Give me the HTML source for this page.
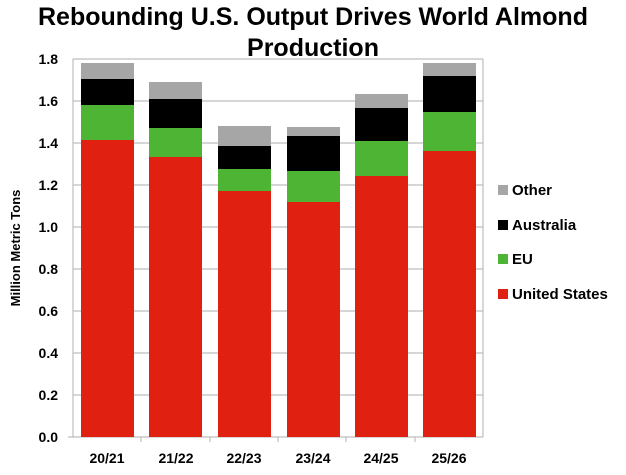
<!DOCTYPE html>
<html><head><style>body{margin:0;background:#fff}</style></head><body>
<svg width="626" height="470" xmlns="http://www.w3.org/2000/svg" font-family="Liberation Sans, sans-serif" font-weight="bold">
<text x="313" y="25" font-size="25" text-anchor="middle">Rebounding U.S. Output Drives World Almond</text>
<text x="313" y="56" font-size="25" text-anchor="middle">Production</text>
<g stroke="#bdbdbd" stroke-width="1.2">
<line x1="73" y1="59" x2="483" y2="59"/><line x1="73" y1="101" x2="483" y2="101"/><line x1="73" y1="143" x2="483" y2="143"/><line x1="73" y1="185" x2="483" y2="185"/><line x1="73" y1="227" x2="483" y2="227"/><line x1="73" y1="269" x2="483" y2="269"/><line x1="73" y1="311" x2="483" y2="311"/><line x1="73" y1="353" x2="483" y2="353"/><line x1="73" y1="395" x2="483" y2="395"/>
<line x1="73" y1="59" x2="73" y2="437"/><line x1="483" y1="59" x2="483" y2="437"/>
<line x1="68" y1="437" x2="483" y2="437"/>
<line x1="141" y1="437" x2="141" y2="442"/><line x1="210" y1="437" x2="210" y2="442"/><line x1="278" y1="437" x2="278" y2="442"/><line x1="346" y1="437" x2="346" y2="442"/><line x1="415" y1="437" x2="415" y2="442"/>
</g>
<g font-size="14" text-anchor="end">
<text x="58" y="64">1.8</text><text x="58" y="106">1.6</text><text x="58" y="148">1.4</text><text x="58" y="190">1.2</text><text x="58" y="232">1.0</text><text x="58" y="274">0.8</text><text x="58" y="316">0.6</text><text x="58" y="358">0.4</text><text x="58" y="400">0.2</text><text x="58" y="442">0.0</text>
</g>
<text transform="translate(20,248) rotate(-90)" font-size="13" text-anchor="middle">Million Metric Tons</text>
<g>
<rect x="81" y="63" width="53" height="16" fill="#a6a6a6"/><rect x="81" y="79" width="53" height="26" fill="#000"/><rect x="81" y="105" width="53" height="35" fill="#4db533"/><rect x="81" y="140" width="53" height="297" fill="#e02010"/>
<rect x="149" y="82" width="53" height="17" fill="#a6a6a6"/><rect x="149" y="99" width="53" height="29" fill="#000"/><rect x="149" y="128" width="53" height="29" fill="#4db533"/><rect x="149" y="157" width="53" height="280" fill="#e02010"/>
<rect x="218" y="126" width="53" height="20" fill="#a6a6a6"/><rect x="218" y="146" width="53" height="23" fill="#000"/><rect x="218" y="169" width="53" height="22" fill="#4db533"/><rect x="218" y="191" width="53" height="246" fill="#e02010"/>
<rect x="287" y="127" width="53" height="9" fill="#a6a6a6"/><rect x="287" y="136" width="53" height="35" fill="#000"/><rect x="287" y="171" width="53" height="31" fill="#4db533"/><rect x="287" y="202" width="53" height="235" fill="#e02010"/>
<rect x="355" y="94" width="53" height="14" fill="#a6a6a6"/><rect x="355" y="108" width="53" height="33" fill="#000"/><rect x="355" y="141" width="53" height="35" fill="#4db533"/><rect x="355" y="176" width="53" height="261" fill="#e02010"/>
<rect x="423" y="63" width="53" height="13" fill="#a6a6a6"/><rect x="423" y="76" width="53" height="36" fill="#000"/><rect x="423" y="112" width="53" height="39" fill="#4db533"/><rect x="423" y="151" width="53" height="286" fill="#e02010"/>
</g>
<g font-size="14" text-anchor="middle">
<text x="107" y="463">20/21</text><text x="176" y="463">21/22</text><text x="244" y="463">22/23</text><text x="313" y="463">23/24</text><text x="381" y="463">24/25</text><text x="449" y="463">25/26</text>
</g>
<g font-size="15">
<rect x="498" y="185" width="10" height="10" fill="#a6a6a6"/><text x="512" y="195">Other</text>
<rect x="498" y="220" width="10" height="10" fill="#000"/><text x="512" y="230">Australia</text>
<rect x="498" y="254" width="10" height="10" fill="#4db533"/><text x="512" y="264">EU</text>
<rect x="498" y="289" width="10" height="10" fill="#e02010"/><text x="512" y="299">United States</text>
</g>
</svg>
</body></html>
